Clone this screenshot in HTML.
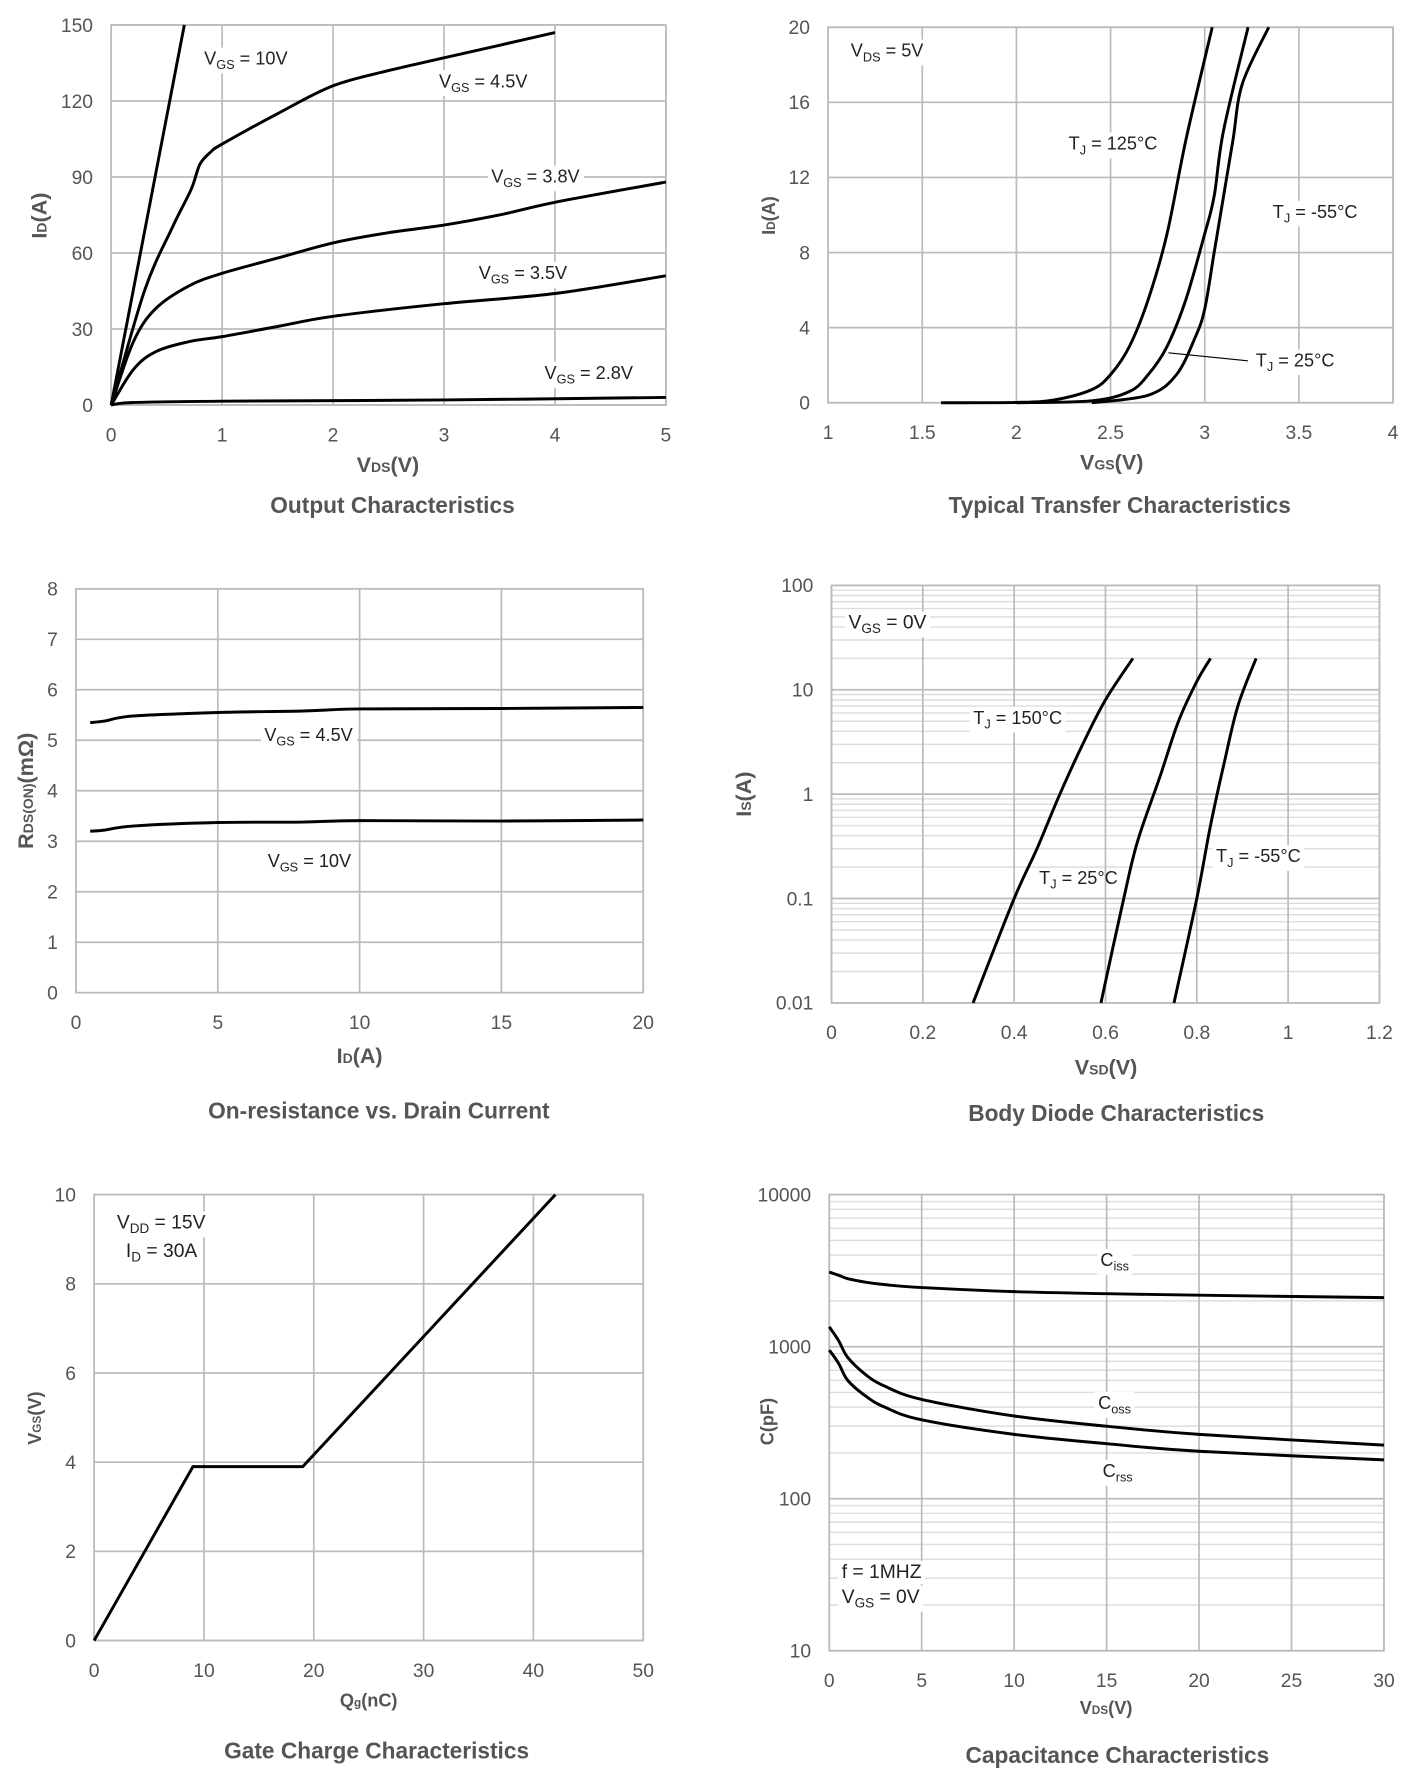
<!DOCTYPE html>
<html><head><meta charset="utf-8"><style>
html,body{margin:0;padding:0;background:#fff}
svg{display:block}
text{font-family:"Liberation Sans",sans-serif}
</style></head><body>
<svg id="s" width="1418" height="1788" viewBox="0 0 1250 1576" preserveAspectRatio="none" xmlns="http://www.w3.org/2000/svg"></svg>
<script>
// ---- data ----
const outVgs10X=[0,0.66], outVgs10Y=[0,150];
const outVgs45X=[0,0.3,0.55,0.72,0.8,0.9,1,1.5,2,2.5,3,3.5,4], outVgs45Y=[0,45,70,85,95,100,103,115,126,132,137,142,147];
const outVgs38X=[0,0.2,0.4,0.7,1,1.5,2,2.5,3,3.5,4,5], outVgs38Y=[0,25,38,47,52,58,64,68,71,75,80,88];
const outVgs35X=[0,0.2,0.4,0.7,1,1.5,2,3,4,5], outVgs35Y=[0,14,21,25,27,31,35,40,44,51];
const outVgs28X=[0,0.2,1,3,5], outVgs28Y=[0,1,1.5,2,3];
const tr125X=[1.6,2.0,2.2,2.4,2.5,2.6,2.7,2.8,2.9,3.04], tr125Y=[0,0.02,0.15,0.7,1.5,3,5.5,9,14,20];
const tr25X=[2.0,2.4,2.6,2.7,2.8,2.9,3.0,3.05,3.1,3.23], tr25Y=[0,0.1,0.6,1.5,3,5.5,9,11,14.5,20];
const trm55X=[2.4,2.7,2.85,2.95,3.0,3.05,3.1,3.15,3.2,3.34], trm55Y=[0,0.4,1.5,3.5,5,8,11,14,17,20];
const rdsX=[0.5,1,2,5,8,10,15,20];
const rds45=[5.35,5.38,5.48,5.55,5.58,5.62,5.63,5.65];
const rds10=[3.2,3.22,3.3,3.37,3.38,3.41,3.4,3.42];
const d150X=[0.31,0.4,0.45,0.5,0.55,0.6,0.66], d150Y=[0.01,0.1,0.3,1,3,8,20];
const d25X=[0.59,0.64,0.67,0.72,0.76,0.8,0.83], d25Y=[0.01,0.1,0.35,1.5,5,12,20];
const dm55X=[0.75,0.8,0.83,0.86,0.89,0.93], dm55Y=[0.01,0.1,0.5,2,7,20];
const gcX=[0,9,19,42], gcY=[0,3.9,3.9,10];
const capX=[0,0.5,1,2,3,5,10,15,20,30];
const ciss=[3100,2950,2800,2650,2560,2450,2300,2230,2180,2100];
const coss=[1350,1100,850,650,550,450,350,300,265,225];
const crss=[950,780,600,470,400,330,265,230,205,180];

const NS="http://www.w3.org/2000/svg", S=document.getElementById('s');
function el(tag,attrs,parent){const e=document.createElementNS(NS,tag);for(const k in attrs)e.setAttribute(k,attrs[k]);(parent||S).appendChild(e);return e;}
function txt(x,y,str,size,opts,parent){const t=el('text',Object.assign({x:x,y:y,'font-size':size,fill:'#555','text-anchor':'middle'},opts||{}),parent);t.textContent=str;return t;}
function subTxt(x,y,main,sub,rest,size,parent,bg){
  const g=el('g',{},parent);
  const t=el('text',{x:x,y:y,'font-size':size,fill:'#222'},g);
  const a=el('tspan',{},t);a.textContent=main;
  const b=el('tspan',{'font-size':size*0.7,dy:4},t);b.textContent=sub;
  const c=el('tspan',{dy:-4},t);c.textContent=rest;
  if(bg){const bb=t.getBBox();const r=el('rect',{x:bb.x-3,y:bb.y-1,width:bb.width+6,height:bb.height+2,fill:'#fff'});g.insertBefore(r,t);}
  return g;
}
function smoothPath(pts){
  if(pts.length<3) return pts.map((p,i)=>(i?'L':'M')+p[0].toFixed(1)+','+p[1].toFixed(1)).join(' ');
  let d='M'+pts[0][0].toFixed(1)+','+pts[0][1].toFixed(1);
  for(let i=0;i<pts.length-1;i++){
    const p0=pts[i-1]||pts[i],p1=pts[i],p2=pts[i+1],p3=pts[i+2]||p2;
    const c1=[p1[0]+(p2[0]-p0[0])/6,p1[1]+(p2[1]-p0[1])/6];
    const c2=[p2[0]-(p3[0]-p1[0])/6,p2[1]-(p3[1]-p1[1])/6];
    d+=` C${c1[0].toFixed(1)},${c1[1].toFixed(1)} ${c2[0].toFixed(1)},${c2[1].toFixed(1)} ${p2[0].toFixed(1)},${p2[1].toFixed(1)}`;
  }
  return d;
}
function chart(o){
  const g=el('g',{});
  
  
  const sx=v=>o.x0+(v-o.xmin)/(o.xmax-o.xmin)*(o.x1-o.x0);
  const sy=o.log?v=>o.y0-(Math.log10(v)-Math.log10(o.ymin))/(Math.log10(o.ymax)-Math.log10(o.ymin))*(o.y0-o.y1)
                 :v=>o.y0-(v-o.ymin)/(o.ymax-o.ymin)*(o.y0-o.y1);
  const grid=el('g',{},g);
  
  
  if(o.log){
    for(let d=o.ymin;d<o.ymax;d*=10){for(let m=2;m<10;m++)el('line',{x1:o.x0,x2:o.x1,y1:sy(d*m),y2:sy(d*m),stroke:'#ddd','stroke-width':1.3},grid);}
  }
  o.xt.forEach(v=>{el('line',{x1:sx(v),x2:sx(v),y1:o.y0,y2:o.y1,stroke:'#bbb','stroke-width':1.5},grid);
    const t=txt(sx(v),o.y0+32,String(v),17,{},g);});
  o.yt.forEach(v=>{el('line',{x1:o.x0,x2:o.x1,y1:sy(v),y2:sy(v),stroke:'#bbb','stroke-width':1.5},grid);
    const t=txt(o.x0-16,sy(v)+6,String(v),17,{'text-anchor':'end'},g);});
  el('rect',{x:o.x0,y:o.y1,width:o.x1-o.x0,height:o.y0-o.y1,fill:'none',stroke:'#bbb','stroke-width':1.5},g);
  const labels=el('g',{},g);
  o.series.forEach(s=>{
    const pts=s.x.map((v,i)=>[sx(v),sy(s.y[i])]);
    const d=s.straight?pts.map((p,i)=>(i?'L':'M')+p[0].toFixed(1)+','+p[1].toFixed(1)).join(' '):smoothPath(pts);
    const p=el('path',{d:d,fill:'none',stroke:'#000','stroke-width':2.6,'stroke-linejoin':'round'},g);
    
    
  });
  g.appendChild(labels);
  const xt=el('text',{x:o.xtx,y:o.xty,'font-size':o.xsmall?16:19,'font-weight':'bold',fill:'#555','text-anchor':'middle'},g);
  
  let a=el('tspan',{},xt);a.textContent=o.xa[0];a=el('tspan',{'font-size':(o.xsmall?16:19)*0.65},xt);a.textContent=o.xa[1];a=el('tspan',{},xt);a.textContent=o.xa[2];
  const yt=el('text',{x:0,y:0,'font-size':o.ysmall?16:19,'font-weight':'bold',fill:'#555','text-anchor':'middle',transform:`translate(${o.ytx},${o.yty}) rotate(-90)`},g);
  
  a=el('tspan',{},yt);a.textContent=o.ya[0];a=el('tspan',{'font-size':(o.ysmall?16:19)*0.65},yt);a.textContent=o.ya[1];a=el('tspan',{},yt);a.textContent=o.ya[2];
  const ct=txt(o.ctx,o.cty,o.title,20,{'font-weight':'bold'},g);
  
  return {g:labels,sx,sy};
}
let c=chart({name:'output-characteristics-chart',x0:98,x1:587,y0:357,y1:22,xmin:0,xmax:5,ymin:0,ymax:150,xt:[0,1,2,3,4,5],yt:[0,30,60,90,120,150],
 series:[{name:'vgs-10v-line',x:outVgs10X,y:outVgs10Y,straight:true},{name:'vgs-4.5v-line',x:outVgs45X,y:outVgs45Y},{name:'vgs-3.8v-line',x:outVgs38X,y:outVgs38Y},{name:'vgs-3.5v-line',x:outVgs35X,y:outVgs35Y},{name:'vgs-2.8v-line',x:outVgs28X,y:outVgs28Y}],
 xa:['V','DS','(V)'],xtx:342,xty:416,ya:['I','D','(A)'],ytx:41,yty:190,title:'Output Characteristics',ctx:346,cty:452});
subTxt(180,57,'V','GS',' = 10V',16,c.g,true);subTxt(387,77,'V','GS',' = 4.5V',16,c.g,true);subTxt(433,161,'V','GS',' = 3.8V',16,c.g,true);subTxt(422,246,'V','GS',' = 3.5V',16,c.g,true);subTxt(480,334,'V','GS',' = 2.8V',16,c.g,true);
c=chart({name:'transfer-characteristics-chart',x0:730,x1:1228,y0:355,y1:24,xmin:1,xmax:4,ymin:0,ymax:20,xt:[1,1.5,2,2.5,3,3.5,4],yt:[0,4,8,12,16,20],
 series:[{name:'tj-125c-line',x:tr125X,y:tr125Y},{name:'tj-25c-line',x:tr25X,y:tr25Y},{name:'tj-minus55c-line',x:trm55X,y:trm55Y}],
 xa:['V','GS','(V)'],xtx:980,xty:414,ya:['I','D','(A)'],ytx:683,yty:190,ysmall:true,title:'Typical Transfer Characteristics',ctx:987,cty:452});
subTxt(750,50,'V','DS',' = 5V',16,c.g,true);subTxt(942,132,'T','J',' = 125°C',16,c.g,true);subTxt(1122,192,'T','J',' = -55°C',16,c.g,true);
el('line',{x1:1030,y1:311,x2:1100,y2:318,stroke:'#000','stroke-width':1},c.g);subTxt(1107,323,'T','J',' = 25°C',16,c.g,true);
c=chart({name:'on-resistance-chart',x0:67,x1:567,y0:875,y1:519,xmin:0,xmax:20,ymin:0,ymax:8,xt:[0,5,10,15,20],yt:[0,1,2,3,4,5,6,7,8],
 series:[{name:'vgs-4.5v-line',x:rdsX,y:rds45},{name:'vgs-10v-line',x:rdsX,y:rds10}],
 xa:['I','D','(A)'],xtx:317,xty:937,ya:['R','DS(ON)','(mΩ)'],ytx:29,yty:697,title:'On-resistance vs. Drain Current',ctx:334,cty:986});
subTxt(233,653,'V','GS',' = 4.5V',16,c.g,true);subTxt(236,764,'V','GS',' = 10V',16,c.g,true);
c=chart({name:'body-diode-chart',x0:733,x1:1216,y0:884,y1:516,xmin:0,xmax:1.2,ymin:0.01,ymax:100,log:true,xt:[0,0.2,0.4,0.6,0.8,1,1.2],yt:[0.01,0.1,1,10,100],
 series:[{name:'tj-150c-line',x:d150X,y:d150Y},{name:'tj-25c-line',x:d25X,y:d25Y},{name:'tj-minus55c-line',x:dm55X,y:dm55Y}],
 xa:['V','SD','(V)'],xtx:975,xty:947,ya:['I','S','(A)'],ytx:662,yty:700,title:'Body Diode Characteristics',ctx:984,cty:988});
subTxt(748,554,'V','GS',' = 0V',17,c.g,true);subTxt(858,638,'T','J',' = 150°C',16,c.g,true);subTxt(916,779,'T','J',' = 25°C',16,c.g,false);subTxt(1072,760,'T','J',' = -55°C',16,c.g,true);
c=chart({name:'gate-charge-chart',x0:83,x1:567,y0:1446,y1:1053,xmin:0,xmax:50,ymin:0,ymax:10,xt:[0,10,20,30,40,50],yt:[0,2,4,6,8,10],
 series:[{name:'vgs-vs-qg-line',x:gcX,y:gcY,straight:true}],
 xa:['Q','g','(nC)'],xtx:325,xty:1504,xsmall:true,ya:['V','GS','(V)'],ytx:36,yty:1250,ysmall:true,title:'Gate Charge Characteristics',ctx:332,cty:1550});
subTxt(103,1083,'V','DD',' = 15V',17,c.g,true);subTxt(111,1108,'I','D',' = 30A',17,c.g,true);
c=chart({name:'capacitance-chart',x0:731,x1:1220,y0:1455,y1:1053,xmin:0,xmax:30,ymin:10,ymax:10000,log:true,xt:[0,5,10,15,20,25,30],yt:[10,100,1000,10000],
 series:[{name:'ciss-line',x:capX,y:ciss},{name:'coss-line',x:capX,y:coss},{name:'crss-line',x:capX,y:crss}],
 xa:['V','DS','(V)'],xtx:975,xty:1511,xsmall:true,ya:['C(pF)','',''],ytx:682,yty:1253,ysmall:true,title:'Capacitance Characteristics',ctx:985,cty:1554});
subTxt(970,1116,'C','iss','',16,c.g,true);subTxt(968,1242,'C','oss','',16,c.g,true);subTxt(972,1302,'C','rss','',16,c.g,true);
subTxt(742,1391,'f = 1MHZ','','',17,c.g,true);subTxt(742,1413,'V','GS',' = 0V',17,c.g,true);
</script>
</body></html>
